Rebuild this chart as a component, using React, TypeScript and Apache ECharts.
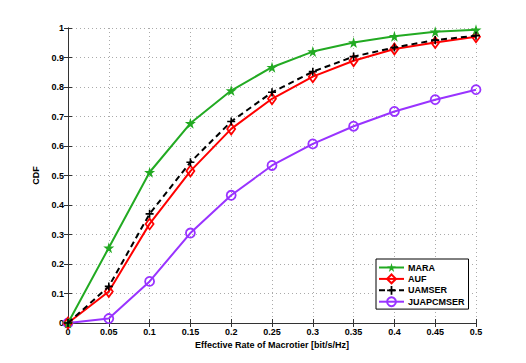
import React, { useEffect, useRef } from "react";
import * as echarts from "echarts";

const xValues = [0, 0.05, 0.1, 0.15, 0.2, 0.25, 0.3, 0.35, 0.4, 0.45, 0.5];
const maraValues = [0, 0.255, 0.511, 0.677, 0.788, 0.867, 0.92, 0.951, 0.972, 0.987, 0.994];
const aufValues = [0, 0.107, 0.336, 0.515, 0.658, 0.76, 0.835, 0.889, 0.929, 0.951, 0.97];
const uamserValues = [0, 0.124, 0.37, 0.545, 0.683, 0.782, 0.852, 0.903, 0.934, 0.959, 0.974];
const juapValues = [0, 0.015, 0.141, 0.305, 0.433, 0.534, 0.607, 0.667, 0.717, 0.757, 0.791];
const seriesNames = ["MARA", "AUF", "UAMSER", "JUAPCMSER"];

const FONT = "'Liberation Sans', Arial, Helvetica, sans-serif";
const STAR = "path://M50,0 L61,35 L98,35 L68,57 L79,91 L50,70 L21,91 L32,57 L2,35 L39,35 Z";
const PLUS = "path://M4,0H6V4H10V6H6V10H4V6H0V4H4Z";

const zip = (ys: number[]) => xValues.map((x, i) => [x, ys[i]]);

export default function App() {
  const ref = useRef<HTMLDivElement>(null);
  useEffect(() => {
    if (!ref.current) return;
    const chart = echarts.init(ref.current, null, { renderer: "svg" });
    const axisLabelStyle = {
      fontFamily: FONT,
      fontWeight: "bold" as const,
      fontSize: 9,
      color: "#000",
    };
    const axisLine = { show: true, lineStyle: { color: "#333", width: 1 } };
    const tick = { show: true, inside: true, length: 4, lineStyle: { color: "#333" } };
    const green = "#22aa22";
    const red = "#ff0000";
    const purple = "#9933ff";
    chart.setOption({
      animation: false,
      backgroundColor: "#fff",
      grid: { left: 68, right: 50, top: 28, bottom: 40, containLabel: false },
      xAxis: [
        {
          type: "value",
          min: 0,
          max: 0.5,
          interval: 0.05,
          position: "bottom",
          name: "Effective Rate of Macrotier [bit/s/Hz]",
          nameLocation: "middle",
          nameGap: 14,
          nameTextStyle: { ...axisLabelStyle },
          axisLine,
          axisTick: tick,
          axisLabel: {
            ...axisLabelStyle,
            margin: 4,
            formatter: (v: number) => String(+v.toFixed(2)),
          },
          splitLine: { show: true, lineStyle: { color: "#aaa", type: [1, 3], width: 1 } },
        },
        {
          type: "value",
          min: 0,
          max: 0.5,
          interval: 0.05,
          position: "top",
          axisLine,
          axisTick: tick,
          axisLabel: { show: false },
          splitLine: { show: false },
        },
      ],
      yAxis: [
        {
          type: "value",
          min: 0,
          max: 1,
          interval: 0.1,
          position: "left",
          name: "CDF",
          nameLocation: "middle",
          nameGap: 19,
          nameRotate: 90,
          nameTextStyle: { ...axisLabelStyle },
          axisLine,
          axisTick: tick,
          axisLabel: {
            ...axisLabelStyle,
            margin: 4,
            formatter: (v: number) => String(+v.toFixed(1)),
          },
          splitLine: { show: true, lineStyle: { color: "#aaa", type: [1, 3], width: 1 } },
        },
        {
          type: "value",
          min: 0,
          max: 1,
          interval: 0.1,
          position: "right",
          axisLine,
          axisTick: tick,
          axisLabel: { show: false },
          splitLine: { show: false },
        },
      ],
      legend: {
        orient: "vertical",
        left: 376,
        top: 259,
        padding: [4, 4, 2, 2],
        itemGap: 1.5,
        itemWidth: 25,
        itemHeight: 11,
        backgroundColor: "#fff",
        borderColor: "#000",
        borderWidth: 1,
        borderRadius: 0,
        textStyle: { ...axisLabelStyle, padding: [0, 0, 0, -1] },
        data: seriesNames,
      },
      series: [
        {
          name: seriesNames[0],
          type: "line",
          data: zip(maraValues),
          symbol: STAR,
          symbolSize: 11,
          lineStyle: { color: green, width: 2 },
          itemStyle: { color: green, borderWidth: 0 },
          z: 4,
        },
        {
          name: seriesNames[1],
          type: "line",
          data: zip(aufValues),
          symbol: "diamond",
          symbolSize: [8, 11],
          lineStyle: { color: red, width: 2 },
          itemStyle: { color: "rgba(255,255,255,0)", borderColor: red, borderWidth: 1.8 },
          z: 3,
        },
        {
          name: seriesNames[2],
          type: "line",
          data: zip(uamserValues),
          symbol: PLUS,
          symbolSize: 8,
          lineStyle: { color: "#000", width: 2, type: [6, 4] },
          itemStyle: { color: "#000", borderWidth: 0 },
          z: 5,
        },
        {
          name: seriesNames[3],
          type: "line",
          data: zip(juapValues),
          symbol: "circle",
          symbolSize: 9,
          lineStyle: { color: purple, width: 2 },
          itemStyle: { color: "rgba(255,255,255,0)", borderColor: purple, borderWidth: 1.8 },
          z: 2,
        },
      ],
    });
    return () => chart.dispose();
  }, []);
  return <div ref={ref} style={{ width: 526, height: 363, margin: -8 }} />;
}
